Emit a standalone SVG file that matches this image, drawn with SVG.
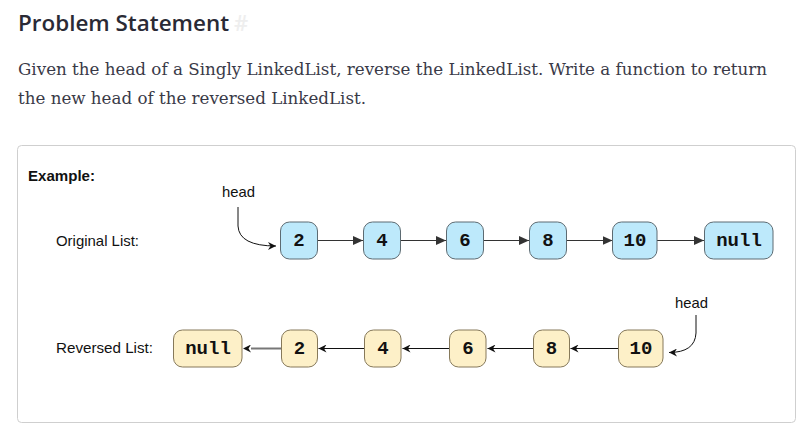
<svg xmlns="http://www.w3.org/2000/svg" width="808" height="438" viewBox="0 0 808 438">
<style>
.title{font-family:"Open Sans","Noto Sans",sans-serif;font-weight:600;font-size:22px;fill:#2a2a35}
.body{font-family:"DejaVu Serif","Liberation Serif",serif;font-size:16px;fill:#3a3a48}
.lbl{font-family:"Liberation Sans",Arial,sans-serif;font-size:14.5px;fill:#111}
.bold{font-weight:bold}
.nt{font-family:"Liberation Mono","Courier New",monospace;font-weight:bold;font-size:19px;fill:#111;text-anchor:middle;dominant-baseline:central}
.blue rect{fill:#bde9fb;stroke:#5d6b72;stroke-width:1}
.yel rect{fill:#fdf0c8;stroke:#86795a;stroke-width:1}
.c{fill:none;stroke:#333;stroke-width:1}
.r{fill:none;stroke:#111;stroke-width:1}
.g{fill:none;stroke:#777;stroke-width:2}
</style>
<defs>
<marker id="tri" markerUnits="userSpaceOnUse" markerWidth="11" markerHeight="9" refX="10" refY="4.5" orient="auto">
<path d="M0,0 L10,4.5 L0,9 Z" fill="#333"/>
</marker>
<marker id="st" markerUnits="userSpaceOnUse" markerWidth="9" markerHeight="8" refX="8" refY="4" orient="auto">
<path d="M0,0 L8,4 L0,8 L2.5,4 Z" fill="#111"/>
</marker>
<marker id="stg" markerUnits="userSpaceOnUse" markerWidth="12" markerHeight="8" refX="3" refY="4" orient="auto">
<path d="M3,0 L11,4 L3,8 L5.5,4 Z" fill="#111"/>
</marker>
</defs>
<rect width="808" height="438" fill="#fff"/>
<text class="title" x="18" y="31" textLength="211" lengthAdjust="spacingAndGlyphs">Problem Statement</text>
<text class="title" x="234" y="31" style="fill:#eeeeee">#</text>
<text class="body" x="18" y="75" textLength="749" lengthAdjust="spacingAndGlyphs">Given the head of a Singly LinkedList, reverse the LinkedList. Write a function to return</text>
<text class="body" x="18" y="104" textLength="348" lengthAdjust="spacingAndGlyphs">the new head of the reversed LinkedList.</text>
<rect x="17.5" y="145.5" width="778" height="277" rx="4" fill="#fff" stroke="#cfcfcf"/>
<text class="lbl bold" x="28" y="181" textLength="67" lengthAdjust="spacingAndGlyphs">Example:</text>
<text class="lbl" x="56" y="246" textLength="83" lengthAdjust="spacingAndGlyphs">Original List:</text>
<text class="lbl" x="56" y="353" textLength="97" lengthAdjust="spacingAndGlyphs">Reversed List:</text>
<text class="lbl" x="222" y="197" textLength="33" lengthAdjust="spacingAndGlyphs">head</text>
<text class="lbl" x="675" y="308" textLength="33" lengthAdjust="spacingAndGlyphs">head</text>
<g id="connectors">
<path class="c" d="M317,240.5 L363,240.5" marker-end="url(#tri)"/>
<path class="c" d="M400,240.5 L446,240.5" marker-end="url(#tri)"/>
<path class="c" d="M483,240.5 L529,240.5" marker-end="url(#tri)"/>
<path class="c" d="M566,240.5 L612.5,240.5" marker-end="url(#tri)"/>
<path class="c" d="M657,240.5 L704,240.5" marker-end="url(#tri)"/>
<path class="r" d="M238,207 L238,226 Q239,246 276,246" marker-end="url(#st)"/>
<path class="g" d="M281,348.5 L251,348.5" marker-end="url(#stg)"/>
<path class="r" d="M364,348.5 L318.5,348.5" marker-end="url(#st)"/>
<path class="r" d="M449,348.5 L402.5,348.5" marker-end="url(#st)"/>
<path class="r" d="M533,348.5 L487.5,348.5" marker-end="url(#st)"/>
<path class="r" d="M618,348.5 L570.5,348.5" marker-end="url(#st)"/>
<path class="r" d="M696,315 L696,333 Q695,352.5 669,352.5" marker-end="url(#st)"/>
</g>
<g id="o2" class="blue"><rect x="280.5" y="222" width="37" height="37" rx="9"/><text class="nt" x="299" y="241">2</text></g>
<g id="o4" class="blue"><rect x="363.5" y="222" width="37" height="37" rx="9"/><text class="nt" x="382" y="241">4</text></g>
<g id="o6" class="blue"><rect x="446.5" y="222" width="37" height="37" rx="9"/><text class="nt" x="465" y="241">6</text></g>
<g id="o8" class="blue"><rect x="529.5" y="222" width="37" height="37" rx="9"/><text class="nt" x="548" y="241">8</text></g>
<g id="o10" class="blue"><rect x="612.5" y="222" width="44.5" height="37" rx="9"/><text class="nt" x="635" y="241">10</text></g>
<g id="onull" class="blue"><rect x="704.5" y="222" width="68.5" height="37" rx="9"/><text class="nt" x="739" y="241">null</text></g>
<g id="rnull" class="yel"><rect x="173.5" y="330" width="68.5" height="37" rx="9"/><text class="nt" x="208" y="349">null</text></g>
<g id="r2" class="yel"><rect x="281.5" y="330" width="36" height="37" rx="9"/><text class="nt" x="299.5" y="349">2</text></g>
<g id="r4" class="yel"><rect x="364.5" y="330" width="36.5" height="37" rx="9"/><text class="nt" x="383" y="349">4</text></g>
<g id="r6" class="yel"><rect x="449.5" y="330" width="36.5" height="37" rx="9"/><text class="nt" x="468" y="349">6</text></g>
<g id="r8" class="yel"><rect x="533.5" y="330" width="36" height="37" rx="9"/><text class="nt" x="551.5" y="349">8</text></g>
<g id="r10" class="yel"><rect x="618.5" y="330" width="44.5" height="37" rx="9"/><text class="nt" x="641" y="349">10</text></g>
</svg>
